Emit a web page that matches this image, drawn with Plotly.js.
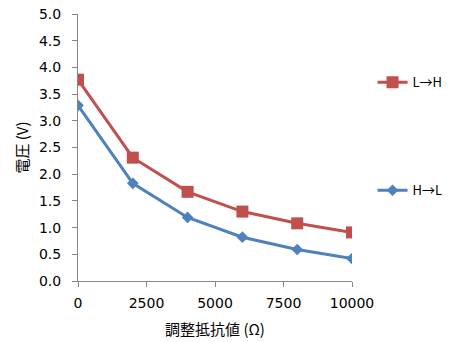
<!DOCTYPE html>
<html>
<head>
<meta charset="utf-8">
<script src="https://cdn.plot.ly/plotly-3.0.1.min.js"></script>
<style>html,body{margin:0;padding:0;background:#fff;}#chart{width:468px;height:342px;}</style>
</head>
<body>
<div id="chart"></div>
<script>
const resistance = [0, 2000, 4000, 6000, 8000, 10000];
const voltageLH = [3.77, 2.31, 1.67, 1.30, 1.08, 0.91];
const voltageHL = [3.29, 1.83, 1.19, 0.82, 0.59, 0.42];
const seriesNames = ['L→H', 'H→L'];
const xTickVals = [0, 2500, 5000, 7500, 10000];
const xTickText = ['0', '2500', '5000', '7500', '10000'];
const xTitle = '調整抵抗値 (Ω)';
const yTitle = '電圧 (V)';

const numFont = '"DejaVu Sans", "Noto Sans CJK JP", sans-serif';
const cjkFont = '"Noto Sans CJK JP", sans-serif';

const traces = [
  {
    x: resistance, y: voltageLH, name: seriesNames[0], type: 'scatter', mode: 'lines+markers',
    line: {color: '#C0504D', width: 3},
    marker: {symbol: 'square', size: 12, color: '#C0504D'},
    legendgroup: 'a'
  },
  {
    x: resistance, y: voltageHL, name: seriesNames[1], type: 'scatter', mode: 'lines+markers',
    line: {color: '#4F81BD', width: 3},
    marker: {symbol: 'diamond', size: 9, color: '#4F81BD'},
    legendgroup: 'b'
  }
];

const layout = {
  width: 468, height: 342,
  margin: {l: 78, r: 116, t: 14, b: 61, pad: 0},
  paper_bgcolor: '#fff', plot_bgcolor: '#fff',
  font: {family: numFont, size: 14, color: '#000'},
  showlegend: true,
  legend: {
    x: 1.075, y: 0.80, xanchor: 'left', yanchor: 'top',
    traceorder: 'grouped', tracegroupgap: 88,
    font: {family: cjkFont, size: 13, color: '#000'},
    bgcolor: 'rgba(0,0,0,0)'
  },
  xaxis: {
    range: [0, 10000], tickvals: xTickVals, ticktext: xTickText,
    showgrid: false, zeroline: false,
    showline: true, linecolor: '#868686', linewidth: 1,
    ticks: 'outside', ticklen: 5, tickcolor: '#868686',
    ticklabelstandoff: 4,
    tickfont: {family: numFont, size: 14},
    title: {text: xTitle, font: {family: cjkFont, size: 15}, standoff: 14}
  },
  yaxis: {
    range: [0, 5], dtick: 0.5, tickformat: '.1f',
    showgrid: false, zeroline: false,
    showline: true, linecolor: '#868686', linewidth: 1,
    ticks: 'outside', ticklen: 5, tickcolor: '#868686',
    ticklabelstandoff: 8,
    tickfont: {family: numFont, size: 14},
    title: {text: yTitle, font: {family: cjkFont, size: 15}, standoff: 6}
  }
};

Plotly.newPlot('chart', traces, layout, {displayModeBar: false, staticPlot: true});
</script>
</body>
</html>
